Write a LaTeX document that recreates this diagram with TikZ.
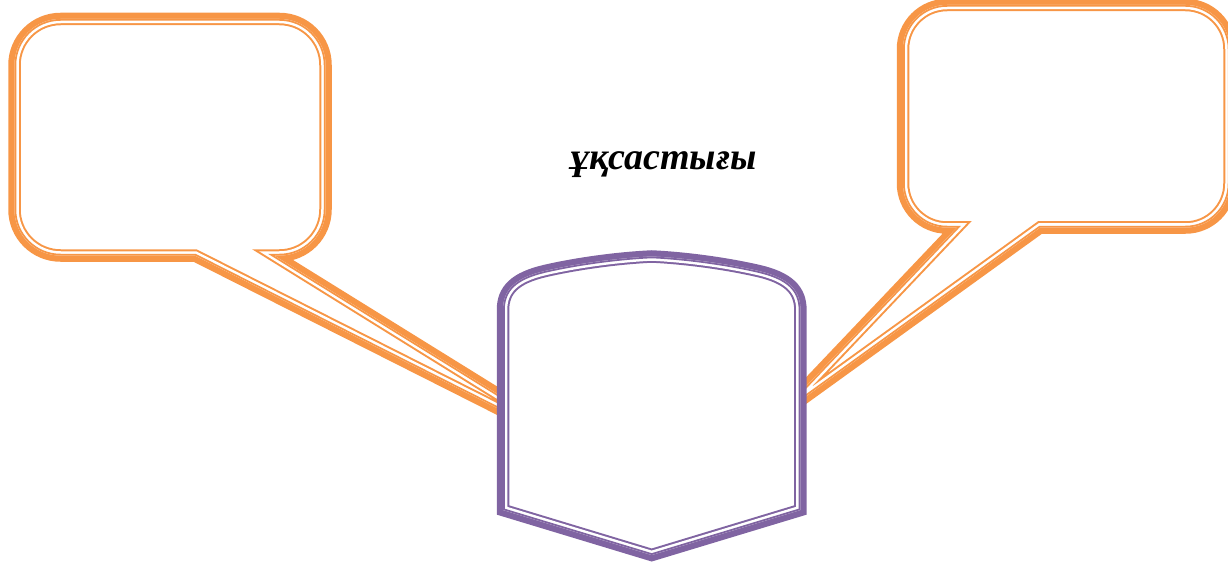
\documentclass[tikz,border=0pt]{standalone}
\usepackage{fontspec}
\newfontfamily\kzfont{Liberation Serif}
\definecolor{accorange}{HTML}{F79646}
\definecolor{accpurple}{HTML}{8064A2}
\newcommand\tripleline[2]{%
  \draw[#1, line width=9.375pt, line join=miter] #2;
  \begin{scope}
    \clip #2;
    \draw[white, line width=6.375pt, line join=miter] #2;
    \draw[#1, line width=2.625pt, line join=miter] #2;
  \end{scope}}
\def\leftP{(14.5,65) .. controls (14.5,39.6) and (35.1,19) .. (60.5,19)
  -- (279.5,19) .. controls (304.9,19) and (325.5,39.6) .. (325.5,65)
  -- (325.5,209.5) .. controls (325.5,234.9) and (304.9,255.5) .. (279.5,255.5)
  -- (274,255.5) -- (620,470) -- (195,255.5)
  -- (60.5,255.5) .. controls (35.1,255.5) and (14.5,234.9) .. (14.5,209.5) -- cycle}
\def\rightP{(903,49) .. controls (903,24.7) and (922.7,5) .. (947,5)
  -- (1185.5,5) .. controls (1209.8,5) and (1229.5,24.7) .. (1229.5,49)
  -- (1229.5,183.5) .. controls (1229.5,207.8) and (1209.8,227.5) .. (1185.5,227.5)
  -- (1040,227.5) -- (776,418) -- (957,227.5)
  -- (947,227.5) .. controls (922.7,227.5) and (903,207.8) .. (903,183.5) -- cycle}
\def\centerP{(503,510) -- (503,310) .. controls (503,290) and (515,278) .. (545,271)
  .. controls (580,263) and (620,258) .. (651.7,256.5)
  .. controls (683.4,258) and (723.4,263) .. (758.4,271)
  .. controls (788.4,278) and (800.4,290) .. (800.4,310)
  -- (800.4,510) -- (651.7,555) -- cycle}
\begin{document}
\begin{tikzpicture}[x=0.75pt,y=-0.75pt,
  titletext/.style={font=\kzfont\bfseries\itshape\fontsize{28.5}{33}\selectfont, inner sep=0pt}]
\useasboundingbox (0,0) rectangle (1228,563);
\tripleline{accorange}{\leftP}
\tripleline{accorange}{\rightP}
\fill[white] \centerP;
\tripleline{accpurple}{\centerP}
\node[titletext, anchor=base] (title) at (663.5,169.5) {ұқсастығы};
\end{tikzpicture}
\end{document}
